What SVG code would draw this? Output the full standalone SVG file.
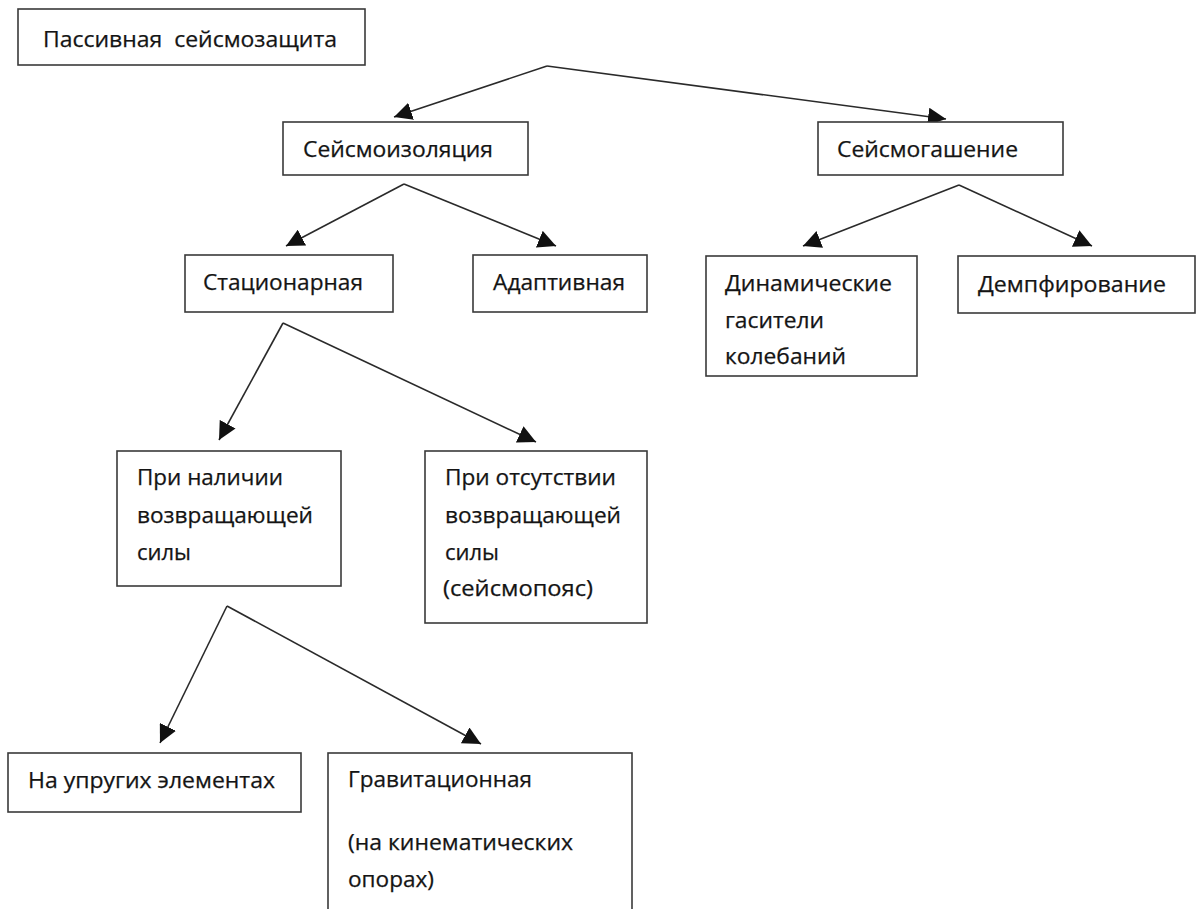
<svg xmlns="http://www.w3.org/2000/svg" width="1196" height="909" viewBox="0 0 1196 909">
<style>
.box{fill:#fff;stroke:#3a3a3a;stroke-width:1.6}
.t{font-family:"Open Sans","Noto Sans","Liberation Sans",sans-serif;font-size:22px;fill:#141414;stroke:#141414;stroke-width:0.25;white-space:pre}
.c{stroke:#2a2a2a;stroke-width:1.6;fill:none}
</style>
<defs>
<marker id="ah" markerUnits="userSpaceOnUse" markerWidth="18" markerHeight="18" refX="16" refY="8" orient="auto" viewBox="0 0 16 16">
<path d="M0,0 L16,8 L0,16 z" fill="#111"/>
</marker>
</defs>
<rect width="1196" height="909" fill="#fff"/>
<g id="connectors">
<line class="c" x1="547" y1="66" x2="394" y2="117" marker-end="url(#ah)"/>
<line class="c" x1="547" y1="66" x2="946" y2="119" marker-end="url(#ah)"/>
<line class="c" x1="404" y1="184" x2="286" y2="246" marker-end="url(#ah)"/>
<line class="c" x1="404" y1="184" x2="556" y2="246" marker-end="url(#ah)"/>
<line class="c" x1="283" y1="323" x2="219" y2="440" marker-end="url(#ah)"/>
<line class="c" x1="283" y1="323" x2="536" y2="442" marker-end="url(#ah)"/>
<line class="c" x1="227" y1="606" x2="160" y2="743" marker-end="url(#ah)"/>
<line class="c" x1="227" y1="606" x2="481" y2="744" marker-end="url(#ah)"/>
<line class="c" x1="959" y1="185" x2="803" y2="246" marker-end="url(#ah)"/>
<line class="c" x1="959" y1="185" x2="1092" y2="246" marker-end="url(#ah)"/>
</g>
<g id="n1">
<rect class="box" x="18" y="9" width="347" height="56"/>
<text class="t" x="43" y="47" textLength="294" lengthAdjust="spacingAndGlyphs">Пассивная  сейсмозащита</text>
</g>
<g id="n2">
<rect class="box" x="283" y="122" width="245" height="53"/>
<text class="t" x="303" y="157" textLength="190" lengthAdjust="spacingAndGlyphs">Сейсмоизоляция</text>
</g>
<g id="n3">
<rect class="box" x="818" y="122" width="245" height="53"/>
<text class="t" x="837" y="157" textLength="181" lengthAdjust="spacingAndGlyphs">Сейсмогашение</text>
</g>
<g id="n4">
<rect class="box" x="185" y="255" width="208" height="57"/>
<text class="t" x="203" y="290" textLength="160" lengthAdjust="spacingAndGlyphs">Стационарная</text>
</g>
<g id="n5">
<rect class="box" x="473" y="255" width="174" height="57"/>
<text class="t" x="493" y="290" textLength="132" lengthAdjust="spacingAndGlyphs">Адаптивная</text>
</g>
<g id="n6">
<rect class="box" x="706" y="256" width="211" height="120"/>
<text class="t" x="725" y="291" textLength="167" lengthAdjust="spacingAndGlyphs">Динамические</text>
<text class="t" x="725" y="328" textLength="99" lengthAdjust="spacingAndGlyphs">гасители</text>
<text class="t" x="725" y="364" textLength="121" lengthAdjust="spacingAndGlyphs">колебаний</text>
</g>
<g id="n7">
<rect class="box" x="958" y="256" width="237" height="57"/>
<text class="t" x="978" y="292" textLength="188" lengthAdjust="spacingAndGlyphs">Демпфирование</text>
</g>
<g id="n8">
<rect class="box" x="117" y="451" width="224" height="135"/>
<text class="t" x="137" y="485" textLength="146" lengthAdjust="spacingAndGlyphs">При наличии</text>
<text class="t" x="137" y="523" textLength="176" lengthAdjust="spacingAndGlyphs">возвращающей</text>
<text class="t" x="137" y="560" textLength="54" lengthAdjust="spacingAndGlyphs">силы</text>
</g>
<g id="n9">
<rect class="box" x="425" y="451" width="222" height="172"/>
<text class="t" x="445" y="485" textLength="171" lengthAdjust="spacingAndGlyphs">При отсутствии</text>
<text class="t" x="445" y="523" textLength="176" lengthAdjust="spacingAndGlyphs">возвращающей</text>
<text class="t" x="445" y="560" textLength="54" lengthAdjust="spacingAndGlyphs">силы</text>
<text class="t" x="443" y="596" textLength="150" lengthAdjust="spacingAndGlyphs">(сейсмопояс)</text>
</g>
<g id="n10">
<rect class="box" x="8" y="753" width="293" height="59"/>
<text class="t" x="28" y="788" textLength="247" lengthAdjust="spacingAndGlyphs">На упругих элементах</text>
</g>
<g id="n11">
<rect class="box" x="328" y="753" width="304" height="180"/>
<text class="t" x="348" y="787" textLength="184" lengthAdjust="spacingAndGlyphs">Гравитационная</text>
<text class="t" x="348" y="850" textLength="225" lengthAdjust="spacingAndGlyphs">(на кинематических</text>
<text class="t" x="348" y="887" textLength="86" lengthAdjust="spacingAndGlyphs">опорах)</text>
</g>
</svg>
